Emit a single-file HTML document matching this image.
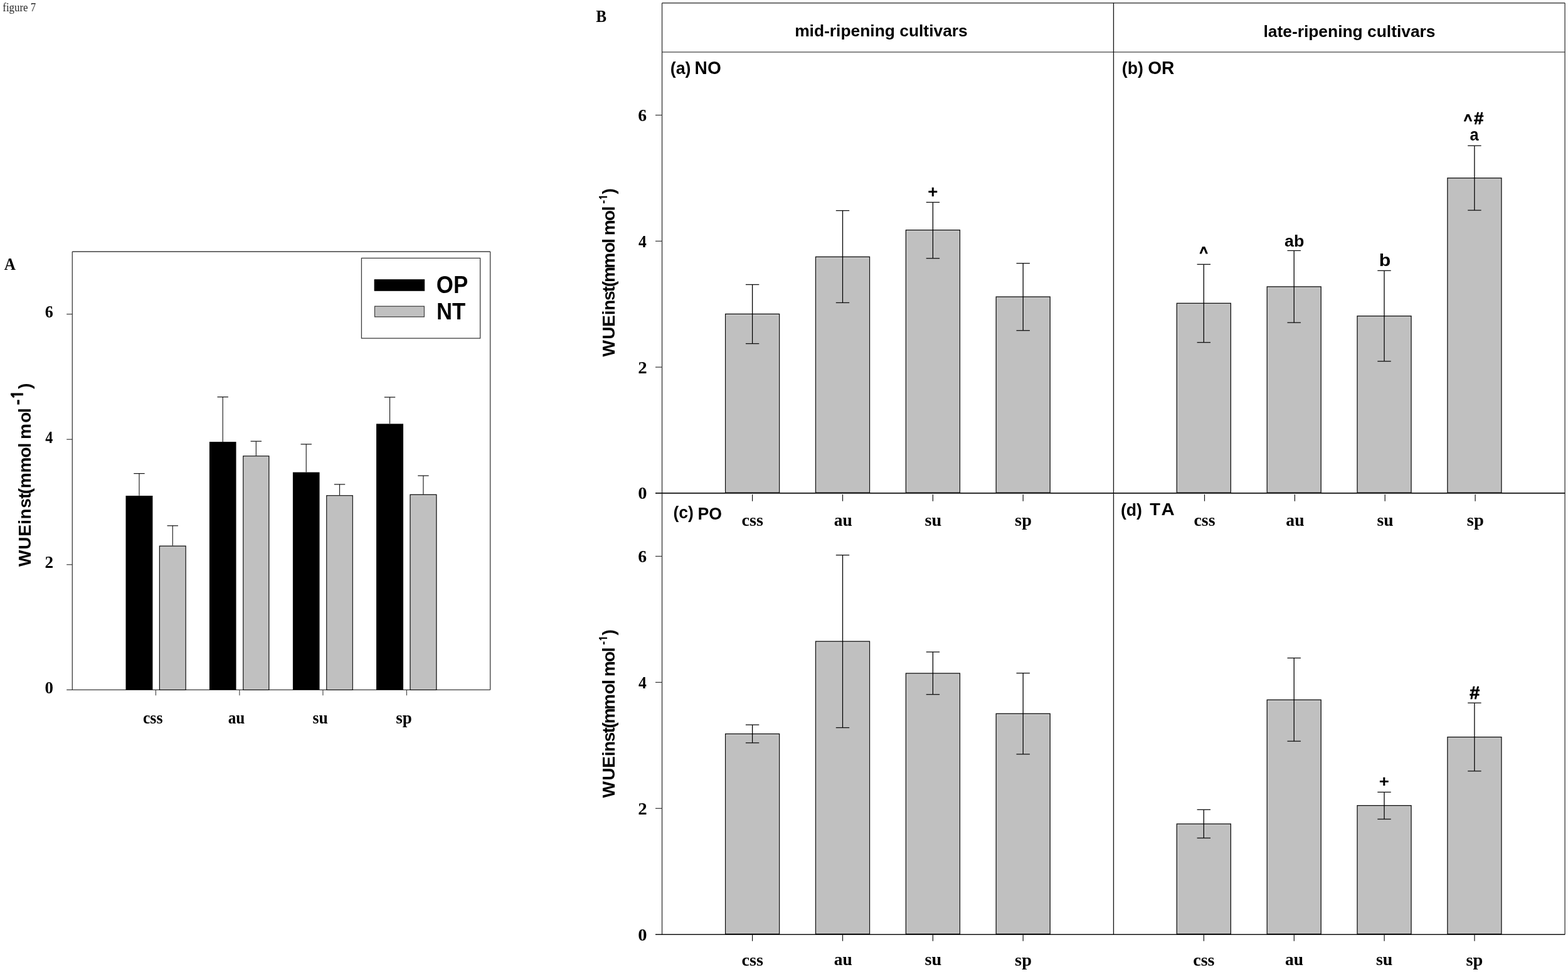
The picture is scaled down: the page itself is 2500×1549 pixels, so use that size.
<!DOCTYPE html>
<html><head><meta charset="utf-8"><title>figure 7</title>
<style>html,body{margin:0;padding:0;background:#fff;} svg{display:block;} text{font-kerning:none;}</style>
</head><body>
<svg width="2500" height="1549" viewBox="0 0 2500 1549">
<rect x="0" y="0" width="2500" height="1549" fill="#fff"/>
<line x1="115.30" y1="401.00" x2="781.60" y2="401.00" stroke="#3c3c3c" stroke-width="1.4"/>
<line x1="115.30" y1="401.00" x2="115.30" y2="1099.40" stroke="#3c3c3c" stroke-width="1.3"/>
<line x1="781.60" y1="401.00" x2="781.60" y2="1099.40" stroke="#3c3c3c" stroke-width="1.3"/>
<line x1="106.20" y1="1099.40" x2="781.60" y2="1099.40" stroke="#3c3c3c" stroke-width="1.3"/>
<line x1="106.20" y1="899.80" x2="115.30" y2="899.80" stroke="#3c3c3c" stroke-width="1.2"/>
<line x1="106.20" y1="700.20" x2="115.30" y2="700.20" stroke="#3c3c3c" stroke-width="1.2"/>
<line x1="106.20" y1="500.60" x2="115.30" y2="500.60" stroke="#3c3c3c" stroke-width="1.2"/>
<line x1="248.40" y1="1099.40" x2="248.40" y2="1108.30" stroke="#3c3c3c" stroke-width="1.1"/>
<line x1="381.90" y1="1099.40" x2="381.90" y2="1108.30" stroke="#3c3c3c" stroke-width="1.1"/>
<line x1="514.90" y1="1099.40" x2="514.90" y2="1108.30" stroke="#3c3c3c" stroke-width="1.1"/>
<line x1="648.40" y1="1099.40" x2="648.40" y2="1108.30" stroke="#3c3c3c" stroke-width="1.1"/>
<line x1="221.95" y1="789.80" x2="221.95" y2="754.60" stroke="#111" stroke-width="1.1"/>
<line x1="213.25" y1="754.60" x2="230.65" y2="754.60" stroke="#111" stroke-width="1.2"/>
<rect x="200.50" y="790.00" width="42.90" height="309.40" fill="#000" stroke="none" stroke-width="0"/>
<line x1="355.20" y1="703.90" x2="355.20" y2="632.60" stroke="#111" stroke-width="1.1"/>
<line x1="346.50" y1="632.60" x2="363.90" y2="632.60" stroke="#111" stroke-width="1.2"/>
<rect x="333.90" y="704.10" width="42.60" height="395.30" fill="#000" stroke="none" stroke-width="0"/>
<line x1="488.20" y1="752.40" x2="488.20" y2="707.90" stroke="#111" stroke-width="1.1"/>
<line x1="479.50" y1="707.90" x2="496.90" y2="707.90" stroke="#111" stroke-width="1.2"/>
<rect x="466.90" y="752.60" width="42.60" height="346.80" fill="#000" stroke="none" stroke-width="0"/>
<line x1="621.50" y1="675.20" x2="621.50" y2="633.00" stroke="#111" stroke-width="1.1"/>
<line x1="612.80" y1="633.00" x2="630.20" y2="633.00" stroke="#111" stroke-width="1.2"/>
<rect x="600.00" y="675.40" width="43.00" height="424.00" fill="#000" stroke="none" stroke-width="0"/>
<line x1="275.25" y1="869.60" x2="275.25" y2="837.80" stroke="#111" stroke-width="1.1"/>
<line x1="266.55" y1="837.80" x2="283.95" y2="837.80" stroke="#111" stroke-width="1.2"/>
<rect x="254.40" y="870.20" width="41.70" height="229.20" fill="#c0c0c0" stroke="#111" stroke-width="1.3"/>
<rect x="255.80" y="871.60" width="38.90" height="226.20" fill="none" stroke="#cbcbcb" stroke-width="0.9"/>
<line x1="408.30" y1="726.20" x2="408.30" y2="703.20" stroke="#111" stroke-width="1.1"/>
<line x1="399.60" y1="703.20" x2="417.00" y2="703.20" stroke="#111" stroke-width="1.2"/>
<rect x="387.80" y="726.80" width="41.00" height="372.60" fill="#c0c0c0" stroke="#111" stroke-width="1.3"/>
<rect x="389.20" y="728.20" width="38.20" height="369.60" fill="none" stroke="#cbcbcb" stroke-width="0.9"/>
<line x1="541.50" y1="789.20" x2="541.50" y2="771.90" stroke="#111" stroke-width="1.1"/>
<line x1="532.80" y1="771.90" x2="550.20" y2="771.90" stroke="#111" stroke-width="1.2"/>
<rect x="520.80" y="789.80" width="41.40" height="309.60" fill="#c0c0c0" stroke="#111" stroke-width="1.3"/>
<rect x="522.20" y="791.20" width="38.60" height="306.60" fill="none" stroke="#cbcbcb" stroke-width="0.9"/>
<line x1="674.90" y1="787.70" x2="674.90" y2="758.10" stroke="#111" stroke-width="1.1"/>
<line x1="666.20" y1="758.10" x2="683.60" y2="758.10" stroke="#111" stroke-width="1.2"/>
<rect x="654.00" y="788.30" width="41.80" height="311.10" fill="#c0c0c0" stroke="#111" stroke-width="1.3"/>
<rect x="655.40" y="789.70" width="39.00" height="308.10" fill="none" stroke="#cbcbcb" stroke-width="0.9"/>
<rect x="576.40" y="411.40" width="189.20" height="127.70" fill="none" stroke="#3c3c3c" stroke-width="1.3"/>
<rect x="597.00" y="445.60" width="79.80" height="17.70" fill="#000" stroke="#000" stroke-width="0.8"/>
<rect x="597.50" y="488.10" width="78.80" height="16.80" fill="#c0c0c0" stroke="#333" stroke-width="1.2"/>
<rect x="599.00" y="489.60" width="75.80" height="13.80" fill="none" stroke="#cbcbcb" stroke-width="0.9"/>
<text id="t_OP" transform="translate(695.85,467.10) scale(0.9665,1.0549)" font-family="'Liberation Sans', Arial, sans-serif" font-size="36" font-weight="bold" fill="#000">OP</text>
<text id="t_NT" transform="translate(696.12,509.00) scale(0.9613,1.0465)" font-family="'Liberation Sans', Arial, sans-serif" font-size="36" font-weight="bold" fill="#000">NT</text>
<text id="t_Ay0" transform="translate(71.52,1104.61) scale(0.9617,0.9789)" font-family="'Liberation Serif', 'Times New Roman', serif" font-size="28" font-weight="bold" fill="#000">0</text>
<text id="t_Ay2" transform="translate(71.51,905.25) scale(0.9720,0.9987)" font-family="'Liberation Serif', 'Times New Roman', serif" font-size="28" font-weight="bold" fill="#000">2</text>
<text id="t_Ay4" transform="translate(72.28,705.65) scale(0.8610,1.0054)" font-family="'Liberation Serif', 'Times New Roman', serif" font-size="28" font-weight="bold" fill="#000">4</text>
<text id="t_Ay6" transform="translate(71.67,505.80) scale(0.9320,0.9854)" font-family="'Liberation Serif', 'Times New Roman', serif" font-size="28" font-weight="bold" fill="#000">6</text>
<text id="t_Ax_css" transform="translate(227.88,1153.05) scale(0.9231,1.0000)" font-family="'Liberation Serif', 'Times New Roman', serif" font-size="28" font-weight="bold" fill="#000">css</text>
<text id="t_Ax_au" transform="translate(363.71,1152.92) scale(0.9000,1.0000)" font-family="'Liberation Serif', 'Times New Roman', serif" font-size="28" font-weight="bold" fill="#000">au</text>
<text id="t_Ax_su" transform="translate(498.60,1152.93) scale(0.9166,0.9908)" font-family="'Liberation Serif', 'Times New Roman', serif" font-size="28" font-weight="bold" fill="#000">su</text>
<text id="t_Ax_sp" transform="translate(631.36,1153.05) scale(0.9633,1.0000)" font-family="'Liberation Serif', 'Times New Roman', serif" font-size="28" font-weight="bold" fill="#000">sp</text>
<text id="t_Aylab" transform="translate(48.90,908.50) rotate(-90)" font-family="'Liberation Sans', Arial, sans-serif" font-size="28" font-weight="bold" fill="#000"><tspan x="5.51" y="0.00">W</tspan><tspan x="32.84" y="0.00">U</tspan><tspan x="53.80" y="0.00">E</tspan><tspan x="72.72" y="0.00">i</tspan><tspan x="81.12" y="0.00">n</tspan><tspan x="98.71" y="0.00">s</tspan><tspan x="113.66" y="0.00">t</tspan><tspan x="121.19" y="0.00">(</tspan><tspan x="130.30" y="0.00">m</tspan><tspan x="154.90" y="0.00">m</tspan><tspan x="179.09" y="0.00">o</tspan><tspan x="195.08" y="0.00">l</tspan> <tspan x="208.50" y="0.00">m</tspan><tspan x="234.69" y="0.00">o</tspan><tspan x="250.62" y="0.00">l</tspan><tspan x="262.84" y="-11.50" font-size="29">-</tspan><tspan x="271.85" y="-11.50" font-size="26" font-family="NanumGothic, 'Liberation Sans', Arial, sans-serif" font-weight="800">1</tspan><tspan x="288.45" y="0.00">)</tspan></text>
<text id="t_A" transform="translate(6.87,429.80) scale(0.9013,0.9838)" font-family="'Liberation Serif', 'Times New Roman', serif" font-size="28" font-weight="bold" fill="#000">A</text>
<line x1="1055.55" y1="4.80" x2="2495.10" y2="4.80" stroke="#444" stroke-width="1.5"/>
<line x1="1055.55" y1="83.00" x2="2495.10" y2="83.00" stroke="#888" stroke-width="1.8"/>
<line x1="1055.55" y1="4.80" x2="1055.55" y2="1489.20" stroke="#333" stroke-width="1.3"/>
<line x1="2495.10" y1="4.80" x2="2495.10" y2="1489.20" stroke="#444" stroke-width="1.4"/>
<line x1="1775.45" y1="4.80" x2="1775.45" y2="1489.20" stroke="#111" stroke-width="1.3"/>
<line x1="1045.00" y1="785.90" x2="2495.10" y2="785.90" stroke="#111" stroke-width="1.6"/>
<line x1="1045.00" y1="1489.20" x2="2495.10" y2="1489.20" stroke="#111" stroke-width="1.6"/>
<line x1="1045.00" y1="585.10" x2="1055.55" y2="585.10" stroke="#333" stroke-width="1.2"/>
<line x1="1045.00" y1="1288.30" x2="1055.55" y2="1288.30" stroke="#333" stroke-width="1.2"/>
<line x1="1045.00" y1="384.30" x2="1055.55" y2="384.30" stroke="#333" stroke-width="1.2"/>
<line x1="1045.00" y1="1087.40" x2="1055.55" y2="1087.40" stroke="#333" stroke-width="1.2"/>
<line x1="1045.00" y1="183.50" x2="1055.55" y2="183.50" stroke="#333" stroke-width="1.2"/>
<line x1="1045.00" y1="886.50" x2="1055.55" y2="886.50" stroke="#333" stroke-width="1.2"/>
<text id="t_Bty0" transform="translate(1017.15,795.46) scale(1.0213,0.9579)" font-family="'Liberation Serif', 'Times New Roman', serif" font-size="28" font-weight="bold" fill="#000">0</text>
<text id="t_Bby0" transform="translate(1017.15,1498.76) scale(1.0213,0.9579)" font-family="'Liberation Serif', 'Times New Roman', serif" font-size="28" font-weight="bold" fill="#000">0</text>
<text id="t_Bty2" transform="translate(1017.14,594.90) scale(1.0323,0.9772)" font-family="'Liberation Serif', 'Times New Roman', serif" font-size="28" font-weight="bold" fill="#000">2</text>
<text id="t_Bby2" transform="translate(1017.14,1298.10) scale(1.0323,0.9772)" font-family="'Liberation Serif', 'Times New Roman', serif" font-size="28" font-weight="bold" fill="#000">2</text>
<text id="t_Bty4" transform="translate(1017.96,394.10) scale(0.9143,0.9838)" font-family="'Liberation Serif', 'Times New Roman', serif" font-size="28" font-weight="bold" fill="#000">4</text>
<text id="t_Bby4" transform="translate(1017.96,1097.20) scale(0.9143,0.9838)" font-family="'Liberation Serif', 'Times New Roman', serif" font-size="28" font-weight="bold" fill="#000">4</text>
<text id="t_Bty6" transform="translate(1017.31,193.06) scale(0.9897,0.9642)" font-family="'Liberation Serif', 'Times New Roman', serif" font-size="28" font-weight="bold" fill="#000">6</text>
<text id="t_Bby6" transform="translate(1017.31,896.06) scale(0.9897,0.9642)" font-family="'Liberation Serif', 'Times New Roman', serif" font-size="28" font-weight="bold" fill="#000">6</text>
<line x1="1199.60" y1="788.00" x2="1199.60" y2="798.70" stroke="#111" stroke-width="1.2"/>
<line x1="1199.60" y1="1489.70" x2="1199.60" y2="1499.70" stroke="#111" stroke-width="1.2"/>
<line x1="1343.50" y1="788.00" x2="1343.50" y2="798.70" stroke="#111" stroke-width="1.2"/>
<line x1="1343.50" y1="1489.70" x2="1343.50" y2="1499.70" stroke="#111" stroke-width="1.2"/>
<line x1="1487.40" y1="788.00" x2="1487.40" y2="798.70" stroke="#111" stroke-width="1.2"/>
<line x1="1487.40" y1="1489.70" x2="1487.40" y2="1499.70" stroke="#111" stroke-width="1.2"/>
<line x1="1631.20" y1="788.00" x2="1631.20" y2="798.70" stroke="#111" stroke-width="1.2"/>
<line x1="1631.20" y1="1489.70" x2="1631.20" y2="1499.70" stroke="#111" stroke-width="1.2"/>
<line x1="1920.50" y1="788.00" x2="1920.50" y2="798.70" stroke="#111" stroke-width="1.2"/>
<line x1="1919.40" y1="1489.70" x2="1919.40" y2="1499.70" stroke="#111" stroke-width="1.2"/>
<line x1="2064.40" y1="788.00" x2="2064.40" y2="798.70" stroke="#111" stroke-width="1.2"/>
<line x1="2063.30" y1="1489.70" x2="2063.30" y2="1499.70" stroke="#111" stroke-width="1.2"/>
<line x1="2208.20" y1="788.00" x2="2208.20" y2="798.70" stroke="#111" stroke-width="1.2"/>
<line x1="2207.10" y1="1489.70" x2="2207.10" y2="1499.70" stroke="#111" stroke-width="1.2"/>
<line x1="2352.10" y1="788.00" x2="2352.10" y2="798.70" stroke="#111" stroke-width="1.2"/>
<line x1="2351.00" y1="1489.70" x2="2351.00" y2="1499.70" stroke="#111" stroke-width="1.2"/>
<text id="t_Bxm_css_1183" transform="translate(1182.60,837.76) scale(1.0031,0.9704)" font-family="'Liberation Serif', 'Times New Roman', serif" font-size="28" font-weight="bold" fill="#000">css</text>
<text id="t_Bxm_au_1330" transform="translate(1329.74,837.64) scale(0.9821,0.9704)" font-family="'Liberation Serif', 'Times New Roman', serif" font-size="28" font-weight="bold" fill="#000">au</text>
<text id="t_Bxm_su_1475" transform="translate(1474.52,837.64) scale(1.0090,0.9615)" font-family="'Liberation Serif', 'Times New Roman', serif" font-size="28" font-weight="bold" fill="#000">su</text>
<text id="t_Bxm_sp_1618" transform="translate(1618.11,838.15) scale(1.0122,1.0000)" font-family="'Liberation Serif', 'Times New Roman', serif" font-size="28" font-weight="bold" fill="#000">sp</text>
<text id="t_Bxm_css_1904" transform="translate(1903.51,837.76) scale(0.9938,0.9704)" font-family="'Liberation Serif', 'Times New Roman', serif" font-size="28" font-weight="bold" fill="#000">css</text>
<text id="t_Bxm_au_2050" transform="translate(2050.34,837.64) scale(0.9857,0.9704)" font-family="'Liberation Serif', 'Times New Roman', serif" font-size="28" font-weight="bold" fill="#000">au</text>
<text id="t_Bxm_su_2196" transform="translate(2195.44,837.64) scale(0.9849,0.9615)" font-family="'Liberation Serif', 'Times New Roman', serif" font-size="28" font-weight="bold" fill="#000">su</text>
<text id="t_Bxm_sp_2339" transform="translate(2338.81,838.15) scale(1.0204,1.0000)" font-family="'Liberation Serif', 'Times New Roman', serif" font-size="28" font-weight="bold" fill="#000">sp</text>
<text id="t_Bxb_css_1183" transform="translate(1182.60,1538.56) scale(1.0031,0.9778)" font-family="'Liberation Serif', 'Times New Roman', serif" font-size="28" font-weight="bold" fill="#000">css</text>
<text id="t_Bxb_au_1330" transform="translate(1329.74,1538.43) scale(0.9821,0.9778)" font-family="'Liberation Serif', 'Times New Roman', serif" font-size="28" font-weight="bold" fill="#000">au</text>
<text id="t_Bxb_su_1475" transform="translate(1474.52,1538.44) scale(1.0090,0.9688)" font-family="'Liberation Serif', 'Times New Roman', serif" font-size="28" font-weight="bold" fill="#000">su</text>
<text id="t_Bxb_sp_1618" transform="translate(1618.11,1538.85) scale(1.0122,1.0000)" font-family="'Liberation Serif', 'Times New Roman', serif" font-size="28" font-weight="bold" fill="#000">sp</text>
<text id="t_Bxb_css_1902" transform="translate(1902.20,1538.56) scale(1.0000,0.9778)" font-family="'Liberation Serif', 'Times New Roman', serif" font-size="28" font-weight="bold" fill="#000">css</text>
<text id="t_Bxb_au_2049" transform="translate(2049.04,1538.43) scale(0.9821,0.9778)" font-family="'Liberation Serif', 'Times New Roman', serif" font-size="28" font-weight="bold" fill="#000">au</text>
<text id="t_Bxb_su_2194" transform="translate(2193.93,1538.44) scale(0.9970,0.9688)" font-family="'Liberation Serif', 'Times New Roman', serif" font-size="28" font-weight="bold" fill="#000">su</text>
<text id="t_Bxb_sp_2338" transform="translate(2337.41,1538.85) scale(1.0163,1.0000)" font-family="'Liberation Serif', 'Times New Roman', serif" font-size="28" font-weight="bold" fill="#000">sp</text>
<rect x="1156.60" y="500.40" width="86.00" height="284.70" fill="#c0c0c0" stroke="#111" stroke-width="1.3"/>
<rect x="1158.30" y="502.30" width="82.60" height="281.00" fill="none" stroke="#cbcbcb" stroke-width="1.0"/>
<line x1="1198.05" y1="501.90" x2="1198.05" y2="547.60" stroke="#cbcbcb" stroke-width="0.9"/>
<line x1="1201.15" y1="501.90" x2="1201.15" y2="547.60" stroke="#cbcbcb" stroke-width="0.9"/>
<line x1="1199.60" y1="453.50" x2="1199.60" y2="547.60" stroke="#000" stroke-width="1.3"/>
<line x1="1188.90" y1="453.50" x2="1210.30" y2="453.50" stroke="#111" stroke-width="1.3"/>
<line x1="1188.90" y1="547.60" x2="1210.30" y2="547.60" stroke="#111" stroke-width="1.3"/>
<rect x="1300.50" y="409.30" width="86.00" height="375.80" fill="#c0c0c0" stroke="#111" stroke-width="1.3"/>
<rect x="1302.20" y="411.20" width="82.60" height="372.10" fill="none" stroke="#cbcbcb" stroke-width="1.0"/>
<line x1="1341.95" y1="410.80" x2="1341.95" y2="482.40" stroke="#cbcbcb" stroke-width="0.9"/>
<line x1="1345.05" y1="410.80" x2="1345.05" y2="482.40" stroke="#cbcbcb" stroke-width="0.9"/>
<line x1="1343.50" y1="335.60" x2="1343.50" y2="482.40" stroke="#000" stroke-width="1.3"/>
<line x1="1332.80" y1="335.60" x2="1354.20" y2="335.60" stroke="#111" stroke-width="1.3"/>
<line x1="1332.80" y1="482.40" x2="1354.20" y2="482.40" stroke="#111" stroke-width="1.3"/>
<rect x="1444.40" y="366.60" width="86.00" height="418.50" fill="#c0c0c0" stroke="#111" stroke-width="1.3"/>
<rect x="1446.10" y="368.50" width="82.60" height="414.80" fill="none" stroke="#cbcbcb" stroke-width="1.0"/>
<line x1="1485.85" y1="368.10" x2="1485.85" y2="411.70" stroke="#cbcbcb" stroke-width="0.9"/>
<line x1="1488.95" y1="368.10" x2="1488.95" y2="411.70" stroke="#cbcbcb" stroke-width="0.9"/>
<line x1="1487.40" y1="322.40" x2="1487.40" y2="411.70" stroke="#000" stroke-width="1.3"/>
<line x1="1476.70" y1="322.40" x2="1498.10" y2="322.40" stroke="#111" stroke-width="1.3"/>
<line x1="1476.70" y1="411.70" x2="1498.10" y2="411.70" stroke="#111" stroke-width="1.3"/>
<rect x="1588.20" y="473.00" width="86.00" height="312.10" fill="#c0c0c0" stroke="#111" stroke-width="1.3"/>
<rect x="1589.90" y="474.90" width="82.60" height="308.40" fill="none" stroke="#cbcbcb" stroke-width="1.0"/>
<line x1="1629.65" y1="474.50" x2="1629.65" y2="526.70" stroke="#cbcbcb" stroke-width="0.9"/>
<line x1="1632.75" y1="474.50" x2="1632.75" y2="526.70" stroke="#cbcbcb" stroke-width="0.9"/>
<line x1="1631.20" y1="419.60" x2="1631.20" y2="526.70" stroke="#000" stroke-width="1.3"/>
<line x1="1620.50" y1="419.60" x2="1641.90" y2="419.60" stroke="#111" stroke-width="1.3"/>
<line x1="1620.50" y1="526.70" x2="1641.90" y2="526.70" stroke="#111" stroke-width="1.3"/>
<rect x="1876.30" y="483.30" width="86.00" height="301.80" fill="#c0c0c0" stroke="#111" stroke-width="1.3"/>
<rect x="1878.00" y="485.20" width="82.60" height="298.10" fill="none" stroke="#cbcbcb" stroke-width="1.0"/>
<line x1="1917.75" y1="484.80" x2="1917.75" y2="545.70" stroke="#cbcbcb" stroke-width="0.9"/>
<line x1="1920.85" y1="484.80" x2="1920.85" y2="545.70" stroke="#cbcbcb" stroke-width="0.9"/>
<line x1="1919.30" y1="421.30" x2="1919.30" y2="545.70" stroke="#000" stroke-width="1.3"/>
<line x1="1908.60" y1="421.30" x2="1930.00" y2="421.30" stroke="#111" stroke-width="1.3"/>
<line x1="1908.60" y1="545.70" x2="1930.00" y2="545.70" stroke="#111" stroke-width="1.3"/>
<rect x="2020.20" y="456.90" width="86.00" height="328.20" fill="#c0c0c0" stroke="#111" stroke-width="1.3"/>
<rect x="2021.90" y="458.80" width="82.60" height="324.50" fill="none" stroke="#cbcbcb" stroke-width="1.0"/>
<line x1="2061.65" y1="458.40" x2="2061.65" y2="514.10" stroke="#cbcbcb" stroke-width="0.9"/>
<line x1="2064.75" y1="458.40" x2="2064.75" y2="514.10" stroke="#cbcbcb" stroke-width="0.9"/>
<line x1="2063.20" y1="399.40" x2="2063.20" y2="514.10" stroke="#000" stroke-width="1.3"/>
<line x1="2052.50" y1="399.40" x2="2073.90" y2="399.40" stroke="#111" stroke-width="1.3"/>
<line x1="2052.50" y1="514.10" x2="2073.90" y2="514.10" stroke="#111" stroke-width="1.3"/>
<rect x="2164.00" y="503.60" width="86.00" height="281.50" fill="#c0c0c0" stroke="#111" stroke-width="1.3"/>
<rect x="2165.70" y="505.50" width="82.60" height="277.80" fill="none" stroke="#cbcbcb" stroke-width="1.0"/>
<line x1="2205.45" y1="505.10" x2="2205.45" y2="575.70" stroke="#cbcbcb" stroke-width="0.9"/>
<line x1="2208.55" y1="505.10" x2="2208.55" y2="575.70" stroke="#cbcbcb" stroke-width="0.9"/>
<line x1="2207.00" y1="431.30" x2="2207.00" y2="575.70" stroke="#000" stroke-width="1.3"/>
<line x1="2196.30" y1="431.30" x2="2217.70" y2="431.30" stroke="#111" stroke-width="1.3"/>
<line x1="2196.30" y1="575.70" x2="2217.70" y2="575.70" stroke="#111" stroke-width="1.3"/>
<rect x="2307.90" y="283.70" width="86.00" height="501.40" fill="#c0c0c0" stroke="#111" stroke-width="1.3"/>
<rect x="2309.60" y="285.60" width="82.60" height="497.70" fill="none" stroke="#cbcbcb" stroke-width="1.0"/>
<line x1="2349.35" y1="285.20" x2="2349.35" y2="335.10" stroke="#cbcbcb" stroke-width="0.9"/>
<line x1="2352.45" y1="285.20" x2="2352.45" y2="335.10" stroke="#cbcbcb" stroke-width="0.9"/>
<line x1="2350.90" y1="232.20" x2="2350.90" y2="335.10" stroke="#000" stroke-width="1.3"/>
<line x1="2340.20" y1="232.20" x2="2361.60" y2="232.20" stroke="#111" stroke-width="1.3"/>
<line x1="2340.20" y1="335.10" x2="2361.60" y2="335.10" stroke="#111" stroke-width="1.3"/>
<rect x="1156.60" y="1169.50" width="86.00" height="318.90" fill="#c0c0c0" stroke="#111" stroke-width="1.3"/>
<rect x="1158.30" y="1171.40" width="82.60" height="315.20" fill="none" stroke="#cbcbcb" stroke-width="1.0"/>
<line x1="1198.05" y1="1171.00" x2="1198.05" y2="1183.80" stroke="#cbcbcb" stroke-width="0.9"/>
<line x1="1201.15" y1="1171.00" x2="1201.15" y2="1183.80" stroke="#cbcbcb" stroke-width="0.9"/>
<line x1="1199.60" y1="1155.10" x2="1199.60" y2="1183.80" stroke="#000" stroke-width="1.3"/>
<line x1="1188.90" y1="1155.10" x2="1210.30" y2="1155.10" stroke="#111" stroke-width="1.3"/>
<line x1="1188.90" y1="1183.80" x2="1210.30" y2="1183.80" stroke="#111" stroke-width="1.3"/>
<rect x="1300.50" y="1022.10" width="86.00" height="466.30" fill="#c0c0c0" stroke="#111" stroke-width="1.3"/>
<rect x="1302.20" y="1024.00" width="82.60" height="462.60" fill="none" stroke="#cbcbcb" stroke-width="1.0"/>
<line x1="1341.95" y1="1023.60" x2="1341.95" y2="1159.60" stroke="#cbcbcb" stroke-width="0.9"/>
<line x1="1345.05" y1="1023.60" x2="1345.05" y2="1159.60" stroke="#cbcbcb" stroke-width="0.9"/>
<line x1="1343.50" y1="884.60" x2="1343.50" y2="1159.60" stroke="#000" stroke-width="1.3"/>
<line x1="1332.80" y1="884.60" x2="1354.20" y2="884.60" stroke="#111" stroke-width="1.3"/>
<line x1="1332.80" y1="1159.60" x2="1354.20" y2="1159.60" stroke="#111" stroke-width="1.3"/>
<rect x="1444.40" y="1073.00" width="86.00" height="415.40" fill="#c0c0c0" stroke="#111" stroke-width="1.3"/>
<rect x="1446.10" y="1074.90" width="82.60" height="411.70" fill="none" stroke="#cbcbcb" stroke-width="1.0"/>
<line x1="1485.85" y1="1074.50" x2="1485.85" y2="1106.70" stroke="#cbcbcb" stroke-width="0.9"/>
<line x1="1488.95" y1="1074.50" x2="1488.95" y2="1106.70" stroke="#cbcbcb" stroke-width="0.9"/>
<line x1="1487.40" y1="1039.00" x2="1487.40" y2="1106.70" stroke="#000" stroke-width="1.3"/>
<line x1="1476.70" y1="1039.00" x2="1498.10" y2="1039.00" stroke="#111" stroke-width="1.3"/>
<line x1="1476.70" y1="1106.70" x2="1498.10" y2="1106.70" stroke="#111" stroke-width="1.3"/>
<rect x="1588.20" y="1137.30" width="86.00" height="351.10" fill="#c0c0c0" stroke="#111" stroke-width="1.3"/>
<rect x="1589.90" y="1139.20" width="82.60" height="347.40" fill="none" stroke="#cbcbcb" stroke-width="1.0"/>
<line x1="1629.65" y1="1138.80" x2="1629.65" y2="1201.90" stroke="#cbcbcb" stroke-width="0.9"/>
<line x1="1632.75" y1="1138.80" x2="1632.75" y2="1201.90" stroke="#cbcbcb" stroke-width="0.9"/>
<line x1="1631.20" y1="1072.70" x2="1631.20" y2="1201.90" stroke="#000" stroke-width="1.3"/>
<line x1="1620.50" y1="1072.70" x2="1641.90" y2="1072.70" stroke="#111" stroke-width="1.3"/>
<line x1="1620.50" y1="1201.90" x2="1641.90" y2="1201.90" stroke="#111" stroke-width="1.3"/>
<rect x="1876.30" y="1313.00" width="86.00" height="175.40" fill="#c0c0c0" stroke="#111" stroke-width="1.3"/>
<rect x="1878.00" y="1314.90" width="82.60" height="171.70" fill="none" stroke="#cbcbcb" stroke-width="1.0"/>
<line x1="1917.75" y1="1314.50" x2="1917.75" y2="1335.50" stroke="#cbcbcb" stroke-width="0.9"/>
<line x1="1920.85" y1="1314.50" x2="1920.85" y2="1335.50" stroke="#cbcbcb" stroke-width="0.9"/>
<line x1="1919.30" y1="1290.30" x2="1919.30" y2="1335.50" stroke="#000" stroke-width="1.3"/>
<line x1="1908.60" y1="1290.30" x2="1930.00" y2="1290.30" stroke="#111" stroke-width="1.3"/>
<line x1="1908.60" y1="1335.50" x2="1930.00" y2="1335.50" stroke="#111" stroke-width="1.3"/>
<rect x="2020.20" y="1115.30" width="86.00" height="373.10" fill="#c0c0c0" stroke="#111" stroke-width="1.3"/>
<rect x="2021.90" y="1117.20" width="82.60" height="369.40" fill="none" stroke="#cbcbcb" stroke-width="1.0"/>
<line x1="2061.65" y1="1116.80" x2="2061.65" y2="1181.20" stroke="#cbcbcb" stroke-width="0.9"/>
<line x1="2064.75" y1="1116.80" x2="2064.75" y2="1181.20" stroke="#cbcbcb" stroke-width="0.9"/>
<line x1="2063.20" y1="1048.60" x2="2063.20" y2="1181.20" stroke="#000" stroke-width="1.3"/>
<line x1="2052.50" y1="1048.60" x2="2073.90" y2="1048.60" stroke="#111" stroke-width="1.3"/>
<line x1="2052.50" y1="1181.20" x2="2073.90" y2="1181.20" stroke="#111" stroke-width="1.3"/>
<rect x="2164.00" y="1283.70" width="86.00" height="204.70" fill="#c0c0c0" stroke="#111" stroke-width="1.3"/>
<rect x="2165.70" y="1285.60" width="82.60" height="201.00" fill="none" stroke="#cbcbcb" stroke-width="1.0"/>
<line x1="2205.45" y1="1285.20" x2="2205.45" y2="1305.40" stroke="#cbcbcb" stroke-width="0.9"/>
<line x1="2208.55" y1="1285.20" x2="2208.55" y2="1305.40" stroke="#cbcbcb" stroke-width="0.9"/>
<line x1="2207.00" y1="1262.40" x2="2207.00" y2="1305.40" stroke="#000" stroke-width="1.3"/>
<line x1="2196.30" y1="1262.40" x2="2217.70" y2="1262.40" stroke="#111" stroke-width="1.3"/>
<line x1="2196.30" y1="1305.40" x2="2217.70" y2="1305.40" stroke="#111" stroke-width="1.3"/>
<rect x="2307.90" y="1174.60" width="86.00" height="313.80" fill="#c0c0c0" stroke="#111" stroke-width="1.3"/>
<rect x="2309.60" y="1176.50" width="82.60" height="310.10" fill="none" stroke="#cbcbcb" stroke-width="1.0"/>
<line x1="2349.35" y1="1176.10" x2="2349.35" y2="1228.80" stroke="#cbcbcb" stroke-width="0.9"/>
<line x1="2352.45" y1="1176.10" x2="2352.45" y2="1228.80" stroke="#cbcbcb" stroke-width="0.9"/>
<line x1="2350.90" y1="1120.20" x2="2350.90" y2="1228.80" stroke="#000" stroke-width="1.3"/>
<line x1="2340.20" y1="1120.20" x2="2361.60" y2="1120.20" stroke="#111" stroke-width="1.3"/>
<line x1="2340.20" y1="1228.80" x2="2361.60" y2="1228.80" stroke="#111" stroke-width="1.3"/>
<text id="t_mid" transform="translate(1267.16,58.11) scale(0.9964,0.9769)" font-family="'Liberation Sans', Arial, sans-serif" font-size="26.5" font-weight="bold" fill="#000">mid-ripening cultivars</text>
<text id="t_late" transform="translate(2014.43,58.96) scale(0.9957,0.9849)" font-family="'Liberation Sans', Arial, sans-serif" font-size="26.5" font-weight="bold" fill="#000">late-ripening cultivars</text>
<text id="t_a1" transform="translate(1068.74,117.97) scale(0.9917,1.0189)" font-family="'Liberation Sans', Arial, sans-serif" font-size="27" font-weight="bold" fill="#000">(a)</text>
<text id="t_a2" transform="translate(1107.62,118.14) scale(1.0026,1.0214)" font-family="'Liberation Sans', Arial, sans-serif" font-size="28" font-weight="bold" fill="#000">NO</text>
<text id="t_b1" transform="translate(1788.74,117.97) scale(0.9890,1.0189)" font-family="'Liberation Sans', Arial, sans-serif" font-size="27" font-weight="bold" fill="#000">(b)</text>
<text id="t_b2" transform="translate(1830.17,117.74) scale(1.0037,1.0314)" font-family="'Liberation Sans', Arial, sans-serif" font-size="28" font-weight="bold" fill="#000">OR</text>
<text id="t_c1" transform="translate(1073.55,826.15) scale(0.9818,1.0229)" font-family="'Liberation Sans', Arial, sans-serif" font-size="27" font-weight="bold" fill="#000">(c)</text>
<text id="t_c2" transform="translate(1112.51,828.35) scale(0.9525,1.0113)" font-family="'Liberation Sans', Arial, sans-serif" font-size="28" font-weight="bold" fill="#000">PO</text>
<text id="t_d1" transform="translate(1786.94,821.70) scale(0.9858,1.0308)" font-family="'Liberation Sans', Arial, sans-serif" font-size="27" font-weight="bold" fill="#000">(d)</text>
<text id="t_d2" transform="translate(1833.24,821.03) scale(0.9710,1.0130)" font-family="'Liberation Sans', Arial, sans-serif" font-size="28" font-weight="bold" fill="#000">T</text>
<text id="t_d3" transform="translate(1851.61,821.03) scale(1.0470,1.0130)" font-family="'Liberation Sans', Arial, sans-serif" font-size="28" font-weight="bold" fill="#000">A</text>
<text id="t_n1" transform="translate(1479.35,314.64) scale(1.0222,1.0055)" font-family="'Liberation Sans', Arial, sans-serif" font-size="27" font-weight="bold" fill="#000">+</text>
<text id="t_n2" transform="translate(1912.53,409.66) scale(0.9121,0.9379)" font-family="'Liberation Sans', Arial, sans-serif" font-size="25" font-weight="bold" fill="#000" stroke="#000" stroke-width="0.8" stroke-linejoin="round">^</text>
<text id="t_n3" transform="translate(2048.06,392.75) scale(0.9924,0.9823)" font-family="'Liberation Sans', Arial, sans-serif" font-size="27" font-weight="bold" fill="#000">ab</text>
<text id="t_n4" transform="translate(2198.63,424.35) scale(1.1229,1.0127)" font-family="'Liberation Sans', Arial, sans-serif" font-size="27" font-weight="bold" fill="#000">b</text>
<text id="t_n5" transform="translate(2343.50,224.34) scale(0.9391,1.0441)" font-family="'Liberation Sans', Arial, sans-serif" font-size="27" font-weight="bold" fill="#000">a</text>
<text id="t_n6a" transform="translate(2333.63,198.73) scale(0.9196,0.9655)" font-family="'Liberation Sans', Arial, sans-serif" font-size="25" font-weight="bold" fill="#000" stroke="#000" stroke-width="0.8" stroke-linejoin="round">^</text>
<text id="t_n6" transform="translate(2349.99,197.50) scale(1.0265,1.0575)" font-family="'Liberation Sans', Arial, sans-serif" font-size="27" font-weight="bold" fill="#000" stroke="#000" stroke-width="0.7" stroke-linejoin="round">#</text>
<text id="t_n7" transform="translate(2198.85,1253.86) scale(1.0222,0.9688)" font-family="'Liberation Sans', Arial, sans-serif" font-size="27" font-weight="bold" fill="#000">+</text>
<text id="t_n8" transform="translate(2343.37,1113.60) scale(1.0690,1.0685)" font-family="'Liberation Sans', Arial, sans-serif" font-size="27" font-weight="bold" fill="#000" stroke="#000" stroke-width="0.7" stroke-linejoin="round">#</text>
<text id="t_Bylabt" transform="translate(979.70,573.30) rotate(-90)" font-family="'Liberation Sans', Arial, sans-serif" font-size="28" font-weight="bold" fill="#000"><tspan x="4.91" y="0.00">W</tspan><tspan x="32.59" y="0.00">U</tspan><tspan x="52.55" y="0.00">E</tspan><tspan x="71.12" y="0.00">i</tspan><tspan x="78.52" y="0.00">n</tspan><tspan x="94.26" y="0.00">s</tspan><tspan x="108.16" y="0.00">t</tspan><tspan x="115.94" y="0.00">(</tspan><tspan x="123.20" y="0.00">m</tspan><tspan x="145.45" y="0.00">m</tspan><tspan x="170.19" y="0.00">o</tspan><tspan x="185.62" y="0.00">l</tspan> <tspan x="198.15" y="0.00">m</tspan><tspan x="221.29" y="0.00">o</tspan><tspan x="237.12" y="0.00">l</tspan><tspan x="248.60" y="-11.70" font-size="18">-</tspan><tspan x="254.12" y="-11.70" font-size="16.5" font-family="NanumGothic, 'Liberation Sans', Arial, sans-serif" font-weight="800">1</tspan><tspan x="263.80" y="0.00">)</tspan></text>
<text id="t_Bylabb" transform="translate(979.70,1276.40) rotate(-90)" font-family="'Liberation Sans', Arial, sans-serif" font-size="28" font-weight="bold" fill="#000"><tspan x="4.91" y="0.00">W</tspan><tspan x="32.59" y="0.00">U</tspan><tspan x="52.55" y="0.00">E</tspan><tspan x="71.12" y="0.00">i</tspan><tspan x="78.53" y="0.00">n</tspan><tspan x="94.26" y="0.00">s</tspan><tspan x="108.16" y="0.00">t</tspan><tspan x="115.94" y="0.00">(</tspan><tspan x="123.20" y="0.00">m</tspan><tspan x="145.45" y="0.00">m</tspan><tspan x="170.19" y="0.00">o</tspan><tspan x="185.62" y="0.00">l</tspan> <tspan x="198.15" y="0.00">m</tspan><tspan x="221.29" y="0.00">o</tspan><tspan x="237.12" y="0.00">l</tspan><tspan x="248.60" y="-11.70" font-size="18">-</tspan><tspan x="254.12" y="-11.70" font-size="16.5" font-family="NanumGothic, 'Liberation Sans', Arial, sans-serif" font-weight="800">1</tspan><tspan x="263.80" y="0.00">)</tspan></text>
<text id="t_B" transform="translate(950.15,35.10) scale(0.8978,0.9676)" font-family="'Liberation Serif', 'Times New Roman', serif" font-size="28" font-weight="bold" fill="#000">B</text>
<text id="t_fig" transform="translate(4.32,17.90) scale(0.9209,1.0000)" font-family="'Liberation Serif', 'Times New Roman', serif" font-size="18.3" font-weight="normal" fill="#2a2a2a">figure 7</text>
</svg>
</body></html>
